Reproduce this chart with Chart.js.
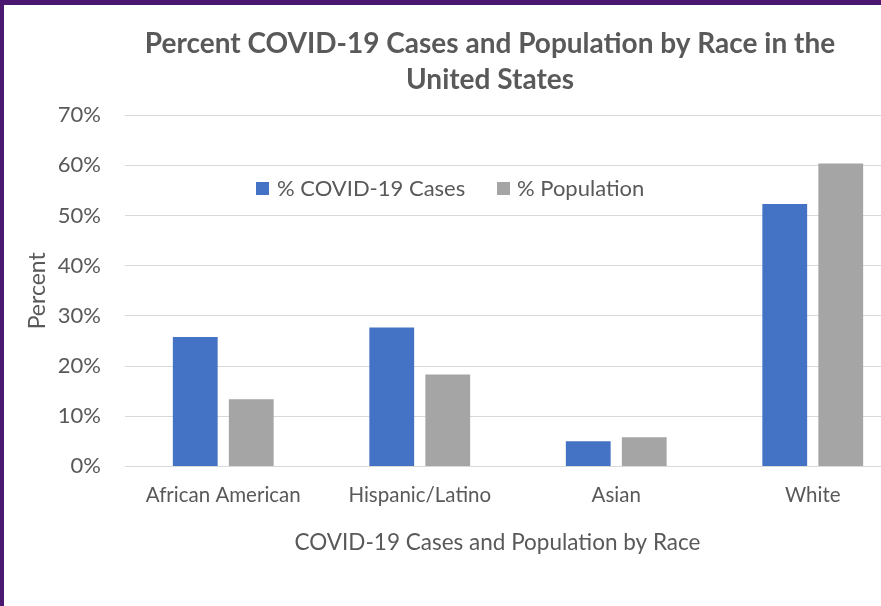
<!DOCTYPE html>
<html>
<head>
<meta charset="utf-8">
<script src="https://cdn.jsdelivr.net/npm/chart.js@4/dist/chart.umd.min.js"></script>
<style>
  html, body { margin: 0; padding: 0; }
  body {
    width: 881px; height: 606px; overflow: hidden; background: #fff;
    box-sizing: border-box; border-top: 5px solid #4a1870; border-left: 4px solid #4a1870;
    position: relative;
  }
  #wrap { position: absolute; left: 1px; top: 0; width: 971px; height: 601px; }
</style>
</head>
<body>
<div id="wrap"><canvas id="raceChart"></canvas></div>
<script>
const categories = ['African American', 'Hispanic/Latino', 'Asian', 'White'];
const covidCases = [25.8, 27.7, 5.0, 52.3];
const population = [13.4, 18.3, 5.8, 60.4];
const yTicks = [0, 10, 20, 30, 40, 50, 60, 70];

const textGray = '#595959';
const font = 'Lato, "Noto Sans", sans-serif';

// legend sits inside the plot, drawn by hand so it can float at a fixed spot
const floatLegend = {
  id: 'floatLegend',
  afterDraw(chart) {
    const ctx = chart.ctx;
    const spots = [[251, 272], [492, 512]];
    ctx.save();
    ctx.font = '22px ' + font;
    ctx.textBaseline = 'middle';
    chart.data.datasets.forEach((ds, i) => {
      const [bx, tx] = spots[i];
      const y = 184;
      ctx.fillStyle = ds.backgroundColor;
      ctx.fillRect(bx, y - 7, 13, 13);
      ctx.fillStyle = textGray;
      ctx.fillText(ds.label, tx, y);
    });
    ctx.restore();
  }
};

// nudge the chart title and the x axis title sideways, off the plot centre
const titleNudge = {
  id: 'titleNudge',
  afterLayout(chart) {
    if (chart.titleBlock) {
      chart.titleBlock.left += 32;
      chart.titleBlock.right += 32;
    }
    chart.scales.x.left -= 41;
  }
};

new Chart(document.getElementById('raceChart').getContext('2d'), {
  type: 'bar',
  data: {
    labels: categories,
    datasets: [
      { label: '% COVID-19 Cases', data: covidCases, backgroundColor: '#4472c4' },
      { label: '% Population', data: population, backgroundColor: '#a5a5a5' }
    ]
  },
  options: {
    responsive: true,
    maintainAspectRatio: false,
    animation: false,
    categoryPercentage: 0.57,
    barPercentage: 0.8,
    layout: { padding: { left: 0, right: 65, top: 0, bottom: 50 } },
    plugins: {
      legend: { display: false },
      tooltip: { enabled: false },
      title: {
        display: true,
        text: ['Percent COVID-19 Cases and Population by Race in the', 'United States'],
        color: textGray,
        font: { family: font, size: 28, weight: 'bold', lineHeight: 1.29 },
        padding: { top: 21, bottom: 17 }
      }
    },
    scales: {
      x: {
        grid: { display: false, drawTicks: false },
        border: { display: false },
        ticks: { color: textGray, font: { family: font, size: 20.5 }, padding: 17 },
        title: {
          display: true,
          text: 'COVID-19 Cases and Population by Race',
          color: textGray,
          font: { family: font, size: 22.5 },
          padding: { top: 4, bottom: 0 }
        }
      },
      y: {
        min: 0,
        max: yTicks[yTicks.length - 1],
        afterBuildTicks(scale) { scale.ticks = yTicks.map(v => ({ value: v })); },
        afterFit(scale) { scale.width = 120; },
        grid: { color: '#d9d9d9', lineWidth: 1, drawTicks: false },
        border: { display: false },
        ticks: { color: textGray, font: { family: font, size: 22 }, padding: 24, callback: v => v + '%' },
        title: {
          display: true,
          text: 'Percent',
          color: textGray,
          font: { family: font, size: 23 },
          padding: { top: 19, bottom: 0 }
        }
      }
    }
  },
  plugins: [floatLegend, titleNudge]
});
</script>
</body>
</html>
